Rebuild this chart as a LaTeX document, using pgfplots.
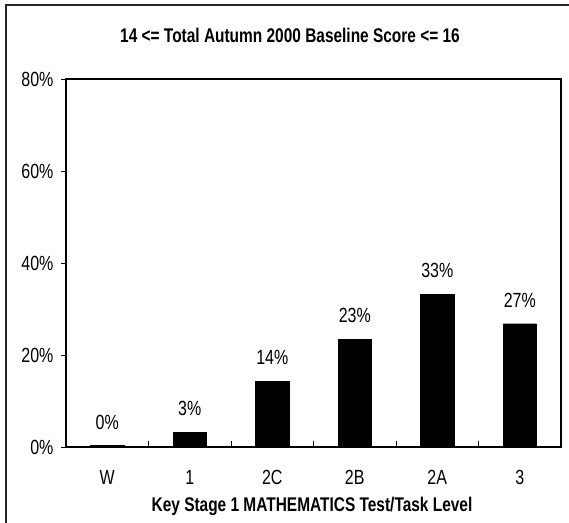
\documentclass[border=0pt]{standalone}
\usepackage{fontspec}
\setmainfont{Liberation Sans}[FakeStretch=0.78]
\usepackage{pgfplots}
\pgfplotsset{compat=1.18}
\begin{document}
\begin{tikzpicture}[x=1pt,y=1pt]
\useasboundingbox (0,0) rectangle (569,522);
\draw[line width=1.3pt, black!85] (6,-10) -- (6,517) -- (590,517);
\begin{axis}[
  at={(66pt,75pt)}, anchor=south west,
  scale only axis, width=495pt, height=368pt,
  xmin=-0.5, xmax=5.5, ymin=0, ymax=80,
  axis line style={line width=1.3pt, black},
  ytick={0,20,40,60,80},
  yticklabel={\pgfmathprintnumber{\tick}\%},
  ytick style={line width=1pt, black},
  y tick label style={font=\fontsize{20.5}{23}\selectfont, xshift=-4pt},
  ytick pos=left, tick align=outside,
  major tick length=5pt,
  xtick={0,1,2,3,4,5},
  xticklabels={W,1,2C,2B,2A,3},
  x tick label style={font=\fontsize{20.5}{23}\selectfont, yshift=-15pt},
  xtick style={draw=none},
  extra x ticks={0.5,1.5,2.5,3.5,4.5},
  extra x tick labels={},
  extra x tick style={xtick style={draw=black, line width=1pt}, tick align=inside, major tick length=6pt, xticklabel pos=bottom},
  xtick pos=bottom,
  /pgf/number format/assume math mode=true,
  ybar, bar width=33.5pt,
  nodes near coords={\pgfmathprintnumber[fixed,precision=0]{\pgfplotspointmeta}\%},
  every node near coord/.append style={font=\fontsize{20.5}{23}\selectfont, anchor=south, inner sep=0pt, yshift=16pt, black},
]
\addplot[fill=black, draw=black] coordinates {(0,0.3) (1,3.2) (2,14.3) (3,23.4) (4,33.2) (5,26.8)};
\end{axis}
\node[font=\bfseries\fontsize{19.8}{22}\selectfont] at (290,487) {14 <= Total Autumn 2000 Baseline Score <= 16};
\node[font=\bfseries\fontsize{19.8}{22}\selectfont] at (312,16) {Key Stage 1 MATHEMATICS Test/Task Level};
\end{tikzpicture}
\end{document}
